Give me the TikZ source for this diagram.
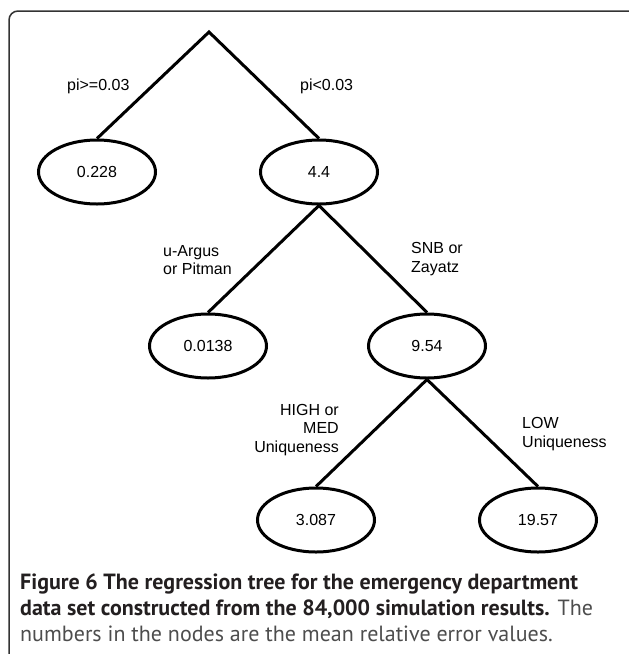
\documentclass[tikz,border=0pt]{standalone}
\usepackage{fontspec}
\setmainfont{Liberation Sans}
\newfontfamily\capfont{PT Sans}
\usetikzlibrary{shapes.geometric}
\definecolor{captxt}{HTML}{4D4D4D}
\definecolor{capbold}{HTML}{231F20}
\tikzset{
  leaf/.style={draw, line width=3pt, ellipse, minimum width=117pt, minimum height=64pt, inner sep=0pt, font=\fontsize{16}{18}\selectfont},
  branch/.style={line width=3pt},
  lbl/.style={font=\fontsize{16}{18.5}\selectfont, inner sep=0pt},
}
\begin{document}
\begin{tikzpicture}[x=1pt,y=-1pt]
\useasboundingbox (0,0) rectangle (629,654);
\begin{scope}
\clip (0,0) rectangle (629,654);
\draw[line width=1.5pt, draw=black!80, rounded corners=9pt] (9,11) rectangle (640,664);
\end{scope}
\coordinate (root) at (209,32);
\node[leaf] (a) at (97,172) {0.228};
\node[leaf] (b) at (319,172) {4.4};
\node[leaf] (c) at (208,346) {0.0138};
\node[leaf] (d) at (427,346) {9.54};
\node[leaf] (e) at (316,520) {3.087};
\node[leaf] (f) at (538,520) {19.57};
\draw[branch, line join=miter] (a.north) -- (root) -- (b.north);
\draw[branch] (b.south) -- (c.north);
\draw[branch] (b.south) -- (d.north);
\draw[branch] (d.south) -- (e.north);
\draw[branch] (d.south) -- (f.north);
\node[lbl, anchor=west] (l1) at (67,86) {pi>=0.03};
\node[lbl, anchor=west] (l2) at (300,86) {pi<0.03};
\node[lbl, anchor=west, align=left] (l3) at (163,260) {u-Argus\\or Pitman};
\node[lbl, anchor=west, align=left] (l4) at (411,259) {SNB or\\Zayatz};
\node[lbl, anchor=east, align=right] (l5) at (339,430) {HIGH or\\MED\\Uniqueness};
\node[lbl, anchor=west, align=left] (l6) at (522,434) {LOW\\Uniqueness};
\node[anchor=base west, inner sep=0pt, align=left, font=\capfont\fontsize{22}{26}\selectfont] (cap) at (20,641)
 {\textcolor{capbold}{\bfseries Figure 6 The regression tree for the emergency department}\\
  \textcolor{capbold}{\bfseries data set constructed from the 84,000 simulation results.} \textcolor{captxt}{The}\\
  \textcolor{captxt}{numbers in the nodes are the mean relative error values.}};
\end{tikzpicture}
\end{document}
